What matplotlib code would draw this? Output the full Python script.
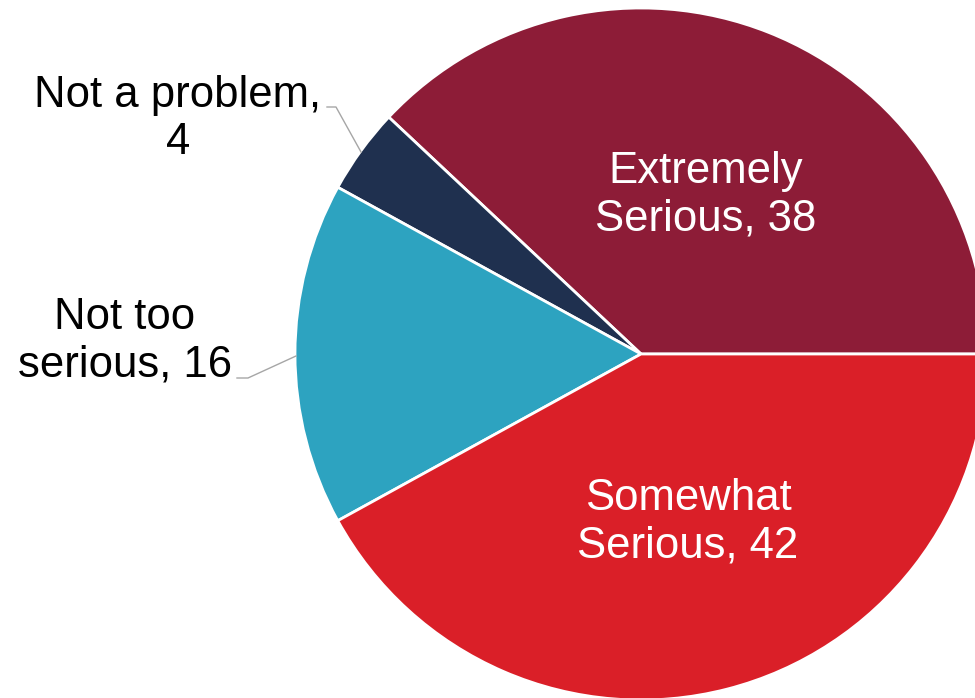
import matplotlib.pyplot as plt

plt.rcParams['font.family'] = ['Liberation Sans', 'DejaVu Sans']

# slice data (counter-clockwise from 3 o'clock)
categories = ["Extremely\nSerious", "Not a problem,\n", "Not too\nserious", "Somewhat\nSerious"]
values = [38, 4, 16, 42]
colors = ["#8D1C37", "#1F304F", "#2DA3C0", "#DA1F28"]

fig = plt.figure(figsize=(9.75, 6.98), dpi=100)
ax = fig.add_axes([0, 0, 1, 1])

# pixel-like coordinates: y measured from bottom
cx, cy, r = 641, 698 - 354, 346
ax.pie(values, colors=colors, startangle=0, counterclock=True,
       center=(cx, cy), radius=r, frame=True,
       wedgeprops=dict(edgecolor="white", linewidth=2))
ax.set_xlim(0, 975)
ax.set_ylim(0, 698)
ax.set_aspect("equal")
ax.axis("off")

fs = 31.5
ls = 1.2
# inside labels
ax.text(706, 698 - 195, "Extremely\nSerious, %d" % values[0], color="white",
        fontsize=fs, ha="center", va="center", linespacing=ls)
ax.text(688, 698 - 522, "Somewhat\nSerious, %d" % values[3], color="white",
        fontsize=fs, ha="center", va="center", linespacing=ls)

# outside labels with leader lines
ax.text(178, 698 - 119, "Not a problem,\n%d" % values[1], color="black",
        fontsize=fs, ha="center", va="center", linespacing=ls)
ax.plot([327, 336, 361], [698 - 107, 698 - 107, 698 - 152],
        color="#A6A6A6", linewidth=1)
ax.text(125, 698 - 341, "Not too\nserious, %d" % values[2], color="black",
        fontsize=fs, ha="center", va="center", linespacing=ls)
ax.plot([237, 248, 296], [698 - 378, 698 - 378, 698 - 356],
        color="#A6A6A6", linewidth=1)

fig.savefig("out.png", dpi=100)
